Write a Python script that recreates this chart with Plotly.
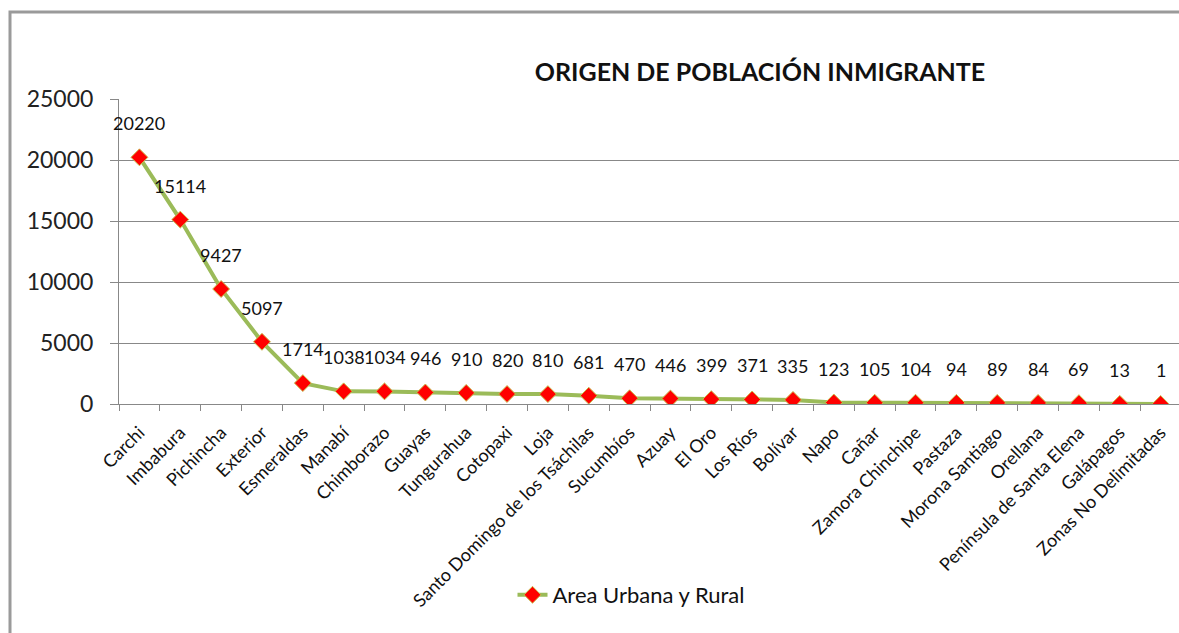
import plotly.graph_objects as go

# origen de la poblacion inmigrante
provincias = ["Carchi", "Imbabura", "Pichincha", "Exterior", "Esmeraldas", "Manabí",
              "Chimborazo", "Guayas", "Tungurahua", "Cotopaxi", "Loja",
              "Santo Domingo de los Tsáchilas", "Sucumbíos", "Azuay", "El Oro",
              "Los Ríos", "Bolívar", "Napo", "Cañar", "Zamora Chinchipe", "Pastaza",
              "Morona Santiago", "Orellana", "Península de Santa Elena", "Galápagos",
              "Zonas No Delimitadas"]
poblacion = [20220, 15114, 9427, 5097, 1714, 1038, 1034, 946, 910, 820, 810,
             681, 470, 446, 399, 371, 335, 123, 105, 104, 94, 89, 84, 69, 13, 1]
y_ticks = [0, 5000, 10000, 15000, 20000, 25000]

W, H = 1179, 633
L, R, T, B = 119, 0, 99, 229
pw, ph = W - L - R, H - T - B

fig = go.Figure()
fig.add_trace(go.Scatter(
    x=provincias, y=poblacion, mode="lines+markers", name="Area Urbana y Rural",
    line=dict(color="#9BBB59", width=4),
    marker=dict(symbol="diamond", size=13, color="#FF0000",
                line=dict(color="#C8C050", width=1)),
))

# etiquetas de datos encima de cada punto
for p, v in zip(provincias, poblacion):
    fig.add_annotation(x=p, y=v, text=str(v), showarrow=False, yshift=34,
                       font=dict(family="Lato", size=18, color="#111111"))

# marco del grafico
fig.add_shape(type="rect", xref="paper", yref="paper",
              x0=(10 - L) / pw, x1=1.05, y0=-1.0, y1=(T + ph - 12) / ph,
              line=dict(color="#9a9a9a", width=3), layer="below")

fig.update_layout(
    width=W, height=H,
    margin=dict(l=L, r=R, t=T, b=B),
    paper_bgcolor="white", plot_bgcolor="white",
    title=dict(text="<b>ORIGEN DE POBLACIÓN INMIGRANTE</b>",
               x=760 / W, xanchor="center", y=1 - 72 / H, yanchor="middle",
               font=dict(family="Lato", size=25, color="#111111")),
    showlegend=True,
    legend=dict(x=(631 - L) / pw, xanchor="center", y=(T + ph - 595) / ph,
                yanchor="middle", font=dict(family="Lato", size=22, color="#111111"),
                bgcolor="rgba(0,0,0,0)"),
    xaxis=dict(type="category", range=[-0.5, 25.45], tickangle=-45,
               tickfont=dict(family="Lato", size=18, color="#111111"),
               ticks="outside", ticklen=6, tickcolor="#888888", tickson="boundaries",
               ticklabelstandoff=10,
               showline=True, linecolor="#888888", linewidth=1, showgrid=False),
    yaxis=dict(range=[0, 25000], tickvals=y_ticks, tickformat="d",
               tickfont=dict(family="Lato", size=23, color="#222222"),
               ticks="outside", ticklen=8, tickcolor="#888888", ticklabelstandoff=12,
               showline=True, linecolor="#888888", linewidth=1,
               showgrid=True, gridcolor="#888888", gridwidth=1, zeroline=False),
)

fig.write_html("out.html", config={"displayModeBar": False},
               post_script="document.body.style.margin='0';document.body.style.overflow='hidden';")
